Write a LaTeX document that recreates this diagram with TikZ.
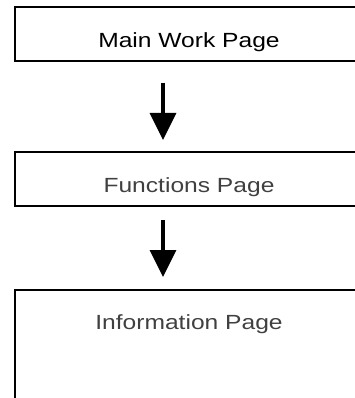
\documentclass[tikz,border=0pt]{standalone}
\usepackage{fontspec}
\usepackage{tikz}
\usetikzlibrary{arrows.meta}
\newfontfamily\pagefont[FakeStretch=1.2]{Liberation Sans}

\begin{document}
\begin{tikzpicture}[
  x=1pt, y=1pt,
  pagebox/.style={draw, rectangle, line width=2pt, anchor=north west,
  inner sep=0pt, minimum width=348pt, text height=41pt, text depth=13pt,
  font=\pagefont\fontsize{20.5pt}{24pt}\selectfont},
  flowarrow/.style={draw, -{Triangle[width=26pt,length=27pt]}, line width=3.5pt}
]
\path[use as bounding box, clip] (0,0) rectangle (355,-398);

\node[pagebox] (main) at (14,-6) {Main Work Page};
\node[pagebox, text=black!75, text depth=13.3pt] (funcs) at (14,-150.7) {Functions Page};
\node[pagebox, text=black!75, text height=39.3pt, text depth=100pt] (info) at (14,-289) {Information Page};

\draw[flowarrow, shorten <=20.7pt, shorten >=10.7pt]
  ([xshift=149pt]main.south west) -- ([xshift=149pt]funcs.north west);
\draw[flowarrow, shorten <=13pt, shorten >=12pt]
  ([xshift=149pt]funcs.south west) -- ([xshift=149pt]info.north west);

\end{tikzpicture}
\end{document}
